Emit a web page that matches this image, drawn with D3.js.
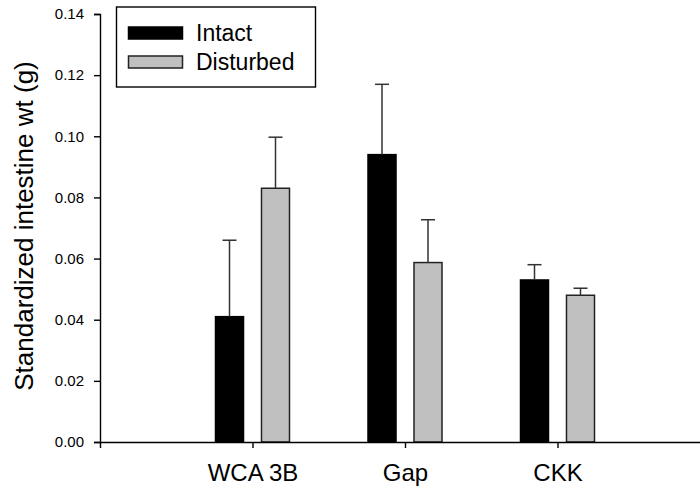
<!DOCTYPE html>
<html>
<head>
<meta charset="utf-8">
<script src="https://cdn.jsdelivr.net/npm/d3@7"></script>
<style>
  body { margin: 0; background: #fff; }
  svg { display: block; font-family: Arial, "Liberation Sans", sans-serif; }
</style>
</head>
<body>
<svg id="chart" width="700" height="489"></svg>
<script>
// data
const categories = ["WCA 3B", "Gap", "CKK"];
const groups = ["Intact", "Disturbed"];
const intactMean = [0.041, 0.094, 0.053];
const intactErr = [0.025, 0.023, 0.005];
const disturbedMean = [0.083, 0.0587, 0.048];
const disturbedErr = [0.0167, 0.014, 0.0023];
const yTicks = [0, 0.02, 0.04, 0.06, 0.08, 0.10, 0.12, 0.14];

const svg = d3.select("#chart");
const width = 700;
const margin = { top: 14, left: 100, bottom: 47 };
const plotBottom = 489 - margin.bottom;

const fills = { Intact: "#000000", Disturbed: "#c0c0c0" };

// rows for drawing
const rows = [];
categories.forEach((c, i) => {
  rows.push({ cat: c, group: "Intact", mean: intactMean[i], err: intactErr[i] });
  rows.push({ cat: c, group: "Disturbed", mean: disturbedMean[i], err: disturbedErr[i] });
});

// scales
const x = d3.scalePoint()
  .domain(categories)
  .range([margin.left, 710])
  .padding(1);

const xSub = d3.scaleBand()
  .domain(groups)
  .range([-37, 37])
  .paddingInner(0.391);

const y = d3.scaleLinear()
  .domain([0, 0.14])
  .range([plotBottom, margin.top]);

// bars
svg.append("g")
  .selectAll("rect")
  .data(rows)
  .join("rect")
  .attr("x", d => x(d.cat) + xSub(d.group))
  .attr("y", d => y(d.mean))
  .attr("width", xSub.bandwidth())
  .attr("height", d => y(0) - y(d.mean))
  .attr("fill", d => fills[d.group])
  .attr("stroke", d => d.group === "Intact" ? "#000" : "#222")
  .attr("stroke-width", 1.5);

// error bars (upper only)
const eb = svg.append("g")
  .attr("stroke", "#333")
  .attr("stroke-width", 1.5);

rows.forEach(d => {
  const cx = x(d.cat) + xSub(d.group) + xSub.bandwidth() / 2;
  eb.append("line")
    .attr("x1", cx).attr("x2", cx)
    .attr("y1", y(d.mean)).attr("y2", y(d.mean + d.err));
  eb.append("line")
    .attr("x1", cx - 7).attr("x2", cx + 7)
    .attr("y1", y(d.mean + d.err)).attr("y2", y(d.mean + d.err));
});

// axes
const xAxis = svg.append("g")
  .attr("transform", `translate(0,${plotBottom})`)
  .call(d3.axisBottom(x).tickSizeOuter(0).tickSize(6));
xAxis.selectAll("text")
  .attr("dy", null)
  .attr("y", 39)
  .attr("font-size", 24)
  .attr("fill", "#000");

const yAxis = svg.append("g")
  .attr("transform", `translate(${margin.left},0)`)
  .call(d3.axisLeft(y).tickValues(yTicks).tickFormat(d3.format(".2f")).tickSizeOuter(0).tickSize(6).tickPadding(10));
yAxis.selectAll("text")
  .attr("font-size", 15)
  .attr("fill", "#000");

svg.selectAll(".domain, .tick line")
  .attr("stroke", "#000")
  .attr("stroke-width", 1.4);

// y title
svg.append("text")
  .attr("transform", "translate(33,226) rotate(-90)")
  .attr("text-anchor", "middle")
  .attr("font-size", 26)
  .attr("fill", "#000")
  .text("Standardized intestine wt (g)");

// legend
const legend = svg.append("g");
legend.append("rect")
  .attr("x", 116.5).attr("y", 7)
  .attr("width", 199).attr("height", 80)
  .attr("fill", "#fff")
  .attr("stroke", "#000")
  .attr("stroke-width", 1.4);

groups.forEach((g, i) => {
  const row = legend.append("g").attr("transform", `translate(0,${i * 29})`);
  row.append("rect")
    .attr("x", 128.5).attr("y", 27)
    .attr("width", 54).attr("height", 12)
    .attr("fill", fills[g])
    .attr("stroke", g === "Intact" ? "#000" : "#222")
    .attr("stroke-width", 1.5);
  row.append("text")
    .attr("x", 196).attr("y", 41)
    .attr("font-size", 23)
    .attr("fill", "#000")
    .text(g);
});
</script>
</body>
</html>
